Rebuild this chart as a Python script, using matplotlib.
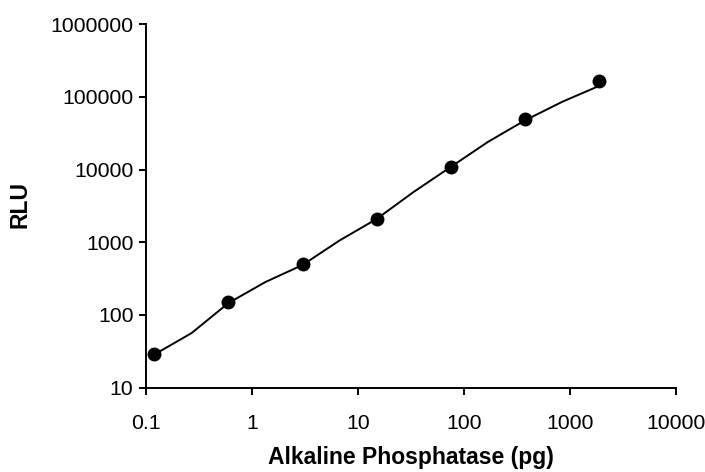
import matplotlib
matplotlib.use("Agg")
import matplotlib.pyplot as plt
from matplotlib.ticker import FixedLocator, FixedFormatter, NullLocator

plt.rcParams['font.family'] = ['Liberation Sans', 'DejaVu Sans']

# Measured data points
amount_pg = [0.12, 0.6, 3.0, 15, 75, 375, 1875]
rlu = [29, 152, 508, 2070, 10700, 49000, 163000]

# Fitted curve
fit_x = [0.12, 0.27, 0.6, 1.34, 3.0, 6.7, 15, 33.5, 75, 168, 375, 840, 1875]
fit_y = [28.6, 56.5, 146, 284, 487, 1058, 2091, 4920, 10860, 23970, 47340, 85100, 141000]

x_ticks = [0.1, 1, 10, 100, 1000, 10000]
x_labels = ["0.1", "1", "10", "100", "1000", "10000"]
y_ticks = [10, 100, 1000, 10000, 100000, 1000000]
y_labels = ["10", "100", "1000", "10000", "100000", "1000000"]

fig = plt.figure(figsize=(7.05, 4.72), dpi=100)
ax = fig.add_axes([0.207, 0.1786, 0.752, 0.7704])

ax.plot(fit_x, fit_y, color='black', lw=1.4, solid_joinstyle='round', zorder=2)
ax.plot(amount_pg, rlu, 'o', color='black', markersize=9, zorder=3)

ax.set_xscale('log')
ax.set_yscale('log')
ax.set_xlim(0.1, 10000)
ax.set_ylim(10, 1000000)

ax.xaxis.set_major_locator(FixedLocator(x_ticks))
ax.xaxis.set_major_formatter(FixedFormatter(x_labels))
ax.xaxis.set_minor_locator(NullLocator())
ax.yaxis.set_major_locator(FixedLocator(y_ticks))
ax.yaxis.set_major_formatter(FixedFormatter(y_labels))
ax.yaxis.set_minor_locator(NullLocator())

for s in ['top', 'right']:
    ax.spines[s].set_visible(False)
for s in ['left', 'bottom']:
    ax.spines[s].set_linewidth(1.4)

ax.tick_params(axis='x', direction='out', length=5, width=1.4, pad=14, labelsize=15.3)
ax.tick_params(axis='y', direction='out', length=5, width=1.4, pad=4, labelsize=15.3)

ax.set_xlabel("Alkaline Phosphatase (pg)", fontsize=16.5, fontweight='bold')
ax.set_ylabel("RLU", fontsize=16.5, fontweight='bold')
ax.xaxis.set_label_coords(0.5, -0.193)
ax.yaxis.set_label_coords(-0.238, 0.505)
ax.xaxis.label.set_va('center')
ax.yaxis.label.set_va('center')

fig.savefig("out.png", dpi=100)
